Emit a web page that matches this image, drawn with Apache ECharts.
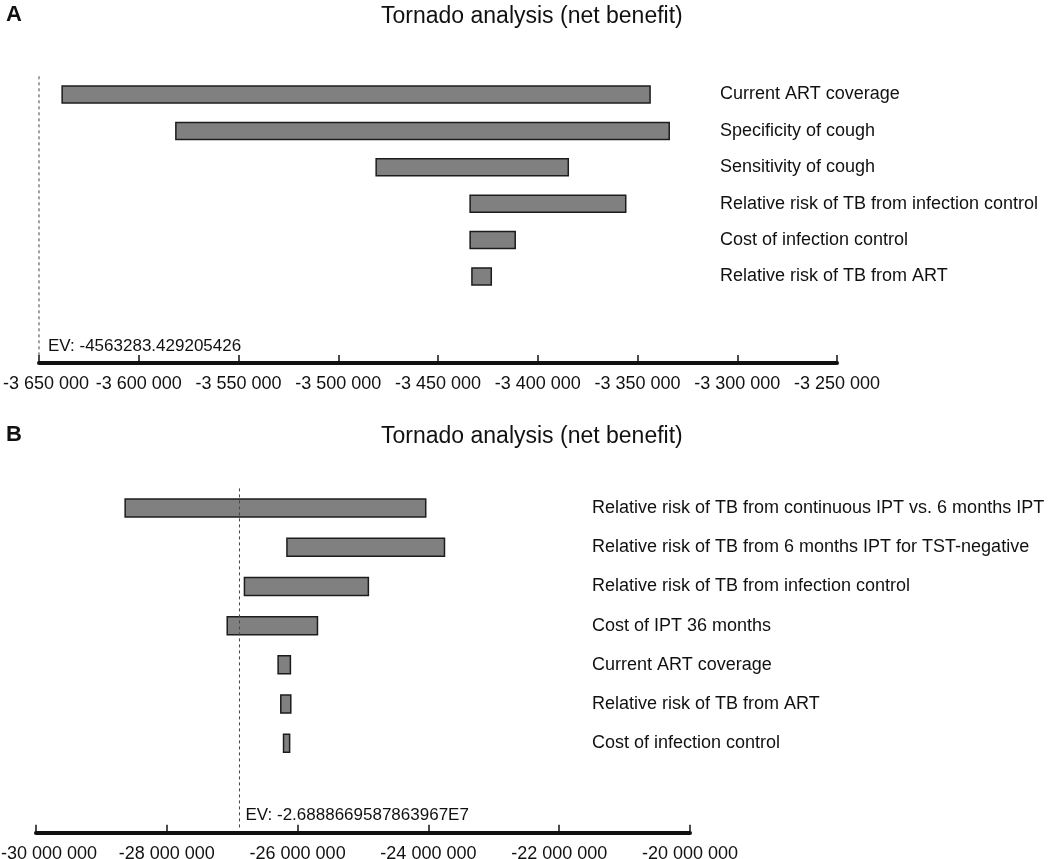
<!DOCTYPE html>
<html>
<head>
<meta charset="utf-8">
<script src="https://cdn.jsdelivr.net/npm/echarts@6/dist/echarts.min.js"></script>
<style>
  html, body { margin: 0; padding: 0; background: #ffffff; }
  #chart { width: 1050px; height: 859px; }
</style>
</head>
<body>
<div id="chart"></div>
<script>
// ---------------- DATA ----------------
const titleText = 'Tornado analysis (net benefit)';

// Panel A
const labelsA = [
  'Current ART coverage',
  'Specificity of cough',
  'Sensitivity of cough',
  'Relative risk of TB from infection control',
  'Cost of infection control',
  'Relative risk of TB from ART'
];
const lowA  = [-3638400, -3581400, -3481000, -3433900, -3433900, -3433000];
const highA = [-3343700, -3334100, -3384700, -3355900, -3411300, -3423300];
const evA = -4563283.429205426;
const evLabelA = 'EV: -4563283.429205426';
const xMinA = -3650000, xMaxA = -3250000, xStepA = 50000;

// Panel B
const labelsB = [
  'Relative risk of TB from continuous IPT vs. 6 months IPT',
  'Relative risk of TB from 6 months IPT for TST-negative',
  'Relative risk of TB from infection control',
  'Cost of IPT 36 months',
  'Current ART coverage',
  'Relative risk of TB from ART',
  'Cost of infection control'
];
const lowB  = [-28637000, -26163000, -26813000, -27076000, -26298000, -26257000, -26215000];
const highB = [-24041000, -23754000, -24918000, -25696000, -26110000, -26104000, -26122000];
const evB = -26888669.587863967;
const evLabelB = 'EV: -2.6888669587863967E7';
const xMinB = -30000000, xMaxB = -20000000, xStepB = 2000000;

// ---------------- STYLE ----------------
const FONT = "'Liberation Sans', Arial, Helvetica, sans-serif";

function group3(v) {
  const s = Math.abs(Math.round(v)).toString().replace(/\B(?=(\d{3})+(?!\d))/g, ' ');
  return (v < 0 ? '-' : '') + s;
}

function fmtFor(mn) {
  return function (v) {
    const t = group3(v);
    return v === mn ? '{first|' + t + '}' : t;
  };
}

function barRender(h) {
  return function (params, api) {
    const lo = api.value(0), hi = api.value(1), row = api.value(2);
    const p0 = api.coord([lo, row]);
    const p1 = api.coord([hi, row]);
    return {
      type: 'rect',
      shape: { x: p0[0], y: p0[1] - h / 2, width: p1[0] - p0[0], height: h },
      style: { fill: '#808080', stroke: '#1c1c1c', lineWidth: 1.5 }
    };
  };
}

function evRender(yMax, label, textDx) {
  return function (params, api) {
    const x = api.value(0);
    const top = api.coord([x, -0.5]);
    const bot = api.coord([x, yMax]);
    return {
      type: 'group',
      children: [
        {
          type: 'line',
          shape: { x1: top[0], y1: top[1], x2: bot[0], y2: bot[1] - 5 },
          style: { stroke: '#444', lineWidth: 1, lineDash: [3, 3] }
        },
        {
          type: 'text',
          style: {
            text: label, x: top[0] + textDx, y: bot[1] - 17,
            fill: '#111', font: '17px ' + FONT, verticalAlign: 'middle', align: 'left'
          }
        }
      ]
    };
  };
}

const yMaxA = 7.38;
const yMaxB = 8.28;

function xAxisCfg(idx, mn, mx, step, firstPad) {
  return {
    type: 'value', gridIndex: idx, min: mn, max: mx, interval: step,
    axisLine: { show: true, onZero: false, lineStyle: { color: '#111', width: 4 } },
    axisTick: { show: true, inside: true, length: 8, lineStyle: { color: '#111', width: 1.5 } },
    axisLabel: {
      color: '#111', fontSize: 18, fontFamily: FONT, margin: 12, formatter: fmtFor(mn), hideOverlap: false,
      rich: { first: { color: '#111', fontSize: 18, fontFamily: FONT, padding: [0, 0, 0, firstPad] } }
    },
    splitLine: { show: false }
  };
}

function yAxisCfg(idx, yMax, labels, offset) {
  return {
    type: 'value', gridIndex: idx, min: 0, max: yMax, interval: 1, inverse: true,
    position: 'right', offset: offset,
    axisLine: { show: false }, axisTick: { show: false }, splitLine: { show: false },
    axisLabel: {
      color: '#111', fontSize: 18, fontFamily: FONT, margin: 0, align: 'left',
      showMaxLabel: false,
      formatter: function (v) { return Number.isInteger(v) && labels[v] ? labels[v] : ''; }
    }
  };
}

const dataA = labelsA.map((_, i) => [lowA[i], highA[i], i]);
const dataB = labelsB.map((_, i) => [lowB[i], highB[i], i]);

const chart = echarts.init(document.getElementById('chart'), null, { renderer: 'canvas' });
chart.setOption({
  backgroundColor: '#ffffff',
  animation: false,
  title: [
    { text: 'A', left: 1, top: -1, textStyle: { fontSize: 22, fontWeight: 'bold', color: '#111', fontFamily: FONT } },
    { text: titleText, left: 376, top: 0, textStyle: { fontSize: 23, fontWeight: 'normal', color: '#111', fontFamily: FONT } },
    { text: 'B', left: 1, top: 419, textStyle: { fontSize: 22, fontWeight: 'bold', color: '#111', fontFamily: FONT } },
    { text: titleText, left: 376, top: 420, textStyle: { fontSize: 23, fontWeight: 'normal', color: '#111', fontFamily: FONT } }
  ],
  grid: [
    { left: 39, width: 798, top: 94.5, height: 268.5, containLabel: false, outerBoundsMode: 'none' },
    { left: 36, width: 654, top: 508, height: 324.7, containLabel: false, outerBoundsMode: 'none' }
  ],
  xAxis: [
    xAxisCfg(0, xMinA, xMaxA, xStepA, 14),
    xAxisCfg(1, xMinB, xMaxB, xStepB, 26)
  ],
  yAxis: [
    yAxisCfg(0, yMaxA, labelsA, -117),
    yAxisCfg(1, yMaxB, labelsB, -98)
  ],
  series: [
    {
      type: 'custom', xAxisIndex: 0, yAxisIndex: 0, data: dataA,
      encode: { x: [0, 1], y: 2 }, renderItem: barRender(17), clip: false
    },
    {
      type: 'custom', xAxisIndex: 0, yAxisIndex: 0,
      data: [[Math.max(evA, xMinA), evA]],
      encode: { x: 0 }, renderItem: evRender(yMaxA, evLabelA, 9), clip: false
    },
    {
      type: 'custom', xAxisIndex: 1, yAxisIndex: 1, data: dataB,
      encode: { x: [0, 1], y: 2 }, renderItem: barRender(18), clip: false
    },
    {
      type: 'custom', xAxisIndex: 1, yAxisIndex: 1,
      data: [[Math.max(evB, xMinB), evB]],
      encode: { x: 0 }, renderItem: evRender(yMaxB, evLabelB, 6), clip: false
    }
  ]
});
</script>
</body>
</html>
